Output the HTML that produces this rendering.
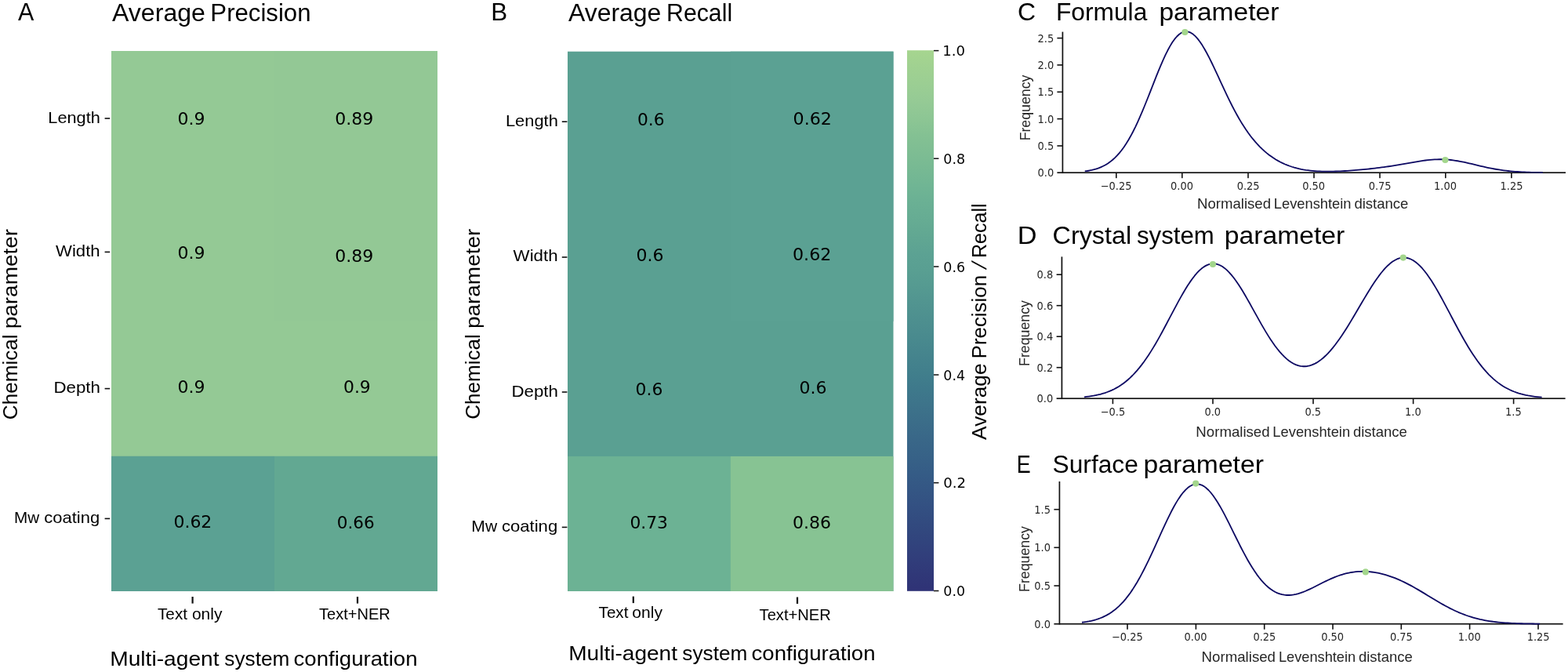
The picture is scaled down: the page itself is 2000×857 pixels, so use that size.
<!DOCTYPE html>
<html lang="en">
<head>
<meta charset="utf-8">
<title>Figure: multi-agent system evaluation</title>
<style>
html,body{margin:0;padding:0;background:#fff;}
body{width:2000px;height:857px;overflow:hidden;font-family:"Liberation Sans",sans-serif;}
svg{display:block;}
text{white-space:pre;}
</style>
</head>
<body>
<svg width="2000" height="857" viewBox="0 0 2000 857" role="img" aria-label="Heatmaps of average precision and recall, and density plots of normalised Levenshtein distance">
<rect x="0" y="0" width="2000" height="857" fill="#ffffff"/>
<rect x="142.00" y="65.00" width="416.00" height="689.00" fill="#94c995"/>
<rect x="142.00" y="581.75" width="208.00" height="172.25" fill="#5ba193"/>
<rect x="350.00" y="65.00" width="208.00" height="344.50" fill="#93c895"/>
<rect x="350.00" y="581.75" width="208.00" height="172.25" fill="#62a892"/>
<rect x="724.00" y="65.70" width="415.50" height="688.30" fill="#5aa092"/>
<rect x="724.00" y="581.92" width="207.75" height="172.08" fill="#6cb294"/>
<rect x="931.75" y="65.70" width="207.75" height="344.15" fill="#5ba193"/>
<rect x="931.75" y="581.92" width="207.75" height="172.08" fill="#87c393"/>
<defs><linearGradient id="cb" x1="0" y1="0" x2="0" y2="1"><stop offset="0.0000" stop-color="#a6d58f"/><stop offset="0.0312" stop-color="#a0d191"/><stop offset="0.0625" stop-color="#9bce93"/><stop offset="0.0938" stop-color="#95ca95"/><stop offset="0.1250" stop-color="#8dc694"/><stop offset="0.1562" stop-color="#84c193"/><stop offset="0.1875" stop-color="#7ebd93"/><stop offset="0.2188" stop-color="#77b993"/><stop offset="0.2500" stop-color="#70b594"/><stop offset="0.2812" stop-color="#6ab094"/><stop offset="0.3125" stop-color="#66ac93"/><stop offset="0.3438" stop-color="#61a792"/><stop offset="0.3750" stop-color="#5ca293"/><stop offset="0.4062" stop-color="#599f92"/><stop offset="0.4375" stop-color="#559a91"/><stop offset="0.4688" stop-color="#519490"/><stop offset="0.5000" stop-color="#4d8f8f"/><stop offset="0.5312" stop-color="#498a8e"/><stop offset="0.5625" stop-color="#45848d"/><stop offset="0.5938" stop-color="#417f8c"/><stop offset="0.6250" stop-color="#3e798b"/><stop offset="0.6562" stop-color="#3d738a"/><stop offset="0.6875" stop-color="#3b6d89"/><stop offset="0.7188" stop-color="#396788"/><stop offset="0.7500" stop-color="#376287"/><stop offset="0.7812" stop-color="#355c86"/><stop offset="0.8125" stop-color="#345684"/><stop offset="0.8438" stop-color="#335082"/><stop offset="0.8750" stop-color="#324a7f"/><stop offset="0.9062" stop-color="#31447d"/><stop offset="0.9375" stop-color="#313e7b"/><stop offset="0.9688" stop-color="#303878"/><stop offset="1.0000" stop-color="#2f3276"/></linearGradient></defs>
<rect x="1157" y="64.2" width="34" height="689.6" fill="url(#cb)"/>
<rect x="1191" y="63.85" width="6.4" height="1.5" fill="#111"/>
<rect x="1191" y="201.45" width="6.4" height="1.5" fill="#111"/>
<rect x="1191" y="339.25" width="6.4" height="1.5" fill="#111"/>
<rect x="1191" y="477.25" width="6.4" height="1.5" fill="#111"/>
<rect x="1191" y="614.95" width="6.4" height="1.5" fill="#111"/>
<rect x="1191" y="752.75" width="6.4" height="1.5" fill="#111"/>
<rect x="133.6" y="150.20" width="6.6" height="1.6" fill="#111"/>
<rect x="133.6" y="320.60" width="6.6" height="1.6" fill="#111"/>
<rect x="133.6" y="494.80" width="6.6" height="1.6" fill="#111"/>
<rect x="133.6" y="660.60" width="6.6" height="1.6" fill="#111"/>
<rect x="716.8" y="154.40" width="6.6" height="1.6" fill="#111"/>
<rect x="716.8" y="327.20" width="6.6" height="1.6" fill="#111"/>
<rect x="716.8" y="499.20" width="6.6" height="1.6" fill="#111"/>
<rect x="716.8" y="671.60" width="6.6" height="1.6" fill="#111"/>
<rect x="244.50" y="761" width="2.2" height="8.6" fill="#111"/>
<rect x="454.90" y="761" width="2.2" height="8.6" fill="#111"/>
<rect x="806.70" y="760.6" width="2.2" height="8.5" fill="#111"/>
<rect x="1015.90" y="761.5" width="2.2" height="8.5" fill="#111"/>
<rect x="1354.55" y="40.60" width="1.7" height="180.45" fill="#111111"/>
<rect x="1348.40" y="219.35" width="648.60" height="1.7" fill="#111111"/>
<rect x="1348.40" y="47.80" width="7.00" height="1.6" fill="#111111"/>
<rect x="1348.40" y="82.10" width="7.00" height="1.6" fill="#111111"/>
<rect x="1348.40" y="116.50" width="7.00" height="1.6" fill="#111111"/>
<rect x="1348.40" y="150.80" width="7.00" height="1.6" fill="#111111"/>
<rect x="1348.40" y="185.20" width="7.00" height="1.6" fill="#111111"/>
<rect x="1423.00" y="220.20" width="1.6" height="7.0" fill="#111111"/>
<rect x="1507.00" y="220.20" width="1.6" height="7.0" fill="#111111"/>
<rect x="1591.20" y="220.20" width="1.6" height="7.0" fill="#111111"/>
<rect x="1675.20" y="220.20" width="1.6" height="7.0" fill="#111111"/>
<rect x="1759.20" y="220.20" width="1.6" height="7.0" fill="#111111"/>
<rect x="1843.00" y="220.20" width="1.6" height="7.0" fill="#111111"/>
<rect x="1927.10" y="220.20" width="1.6" height="7.0" fill="#111111"/>
<path d="M1383.74,218.41 L1386.68,217.99 L1389.61,217.49 L1392.55,216.88 L1395.48,216.16 L1398.42,215.31 L1401.35,214.32 L1404.29,213.15 L1407.23,211.79 L1410.16,210.22 L1413.10,208.42 L1416.03,206.36 L1418.97,204.02 L1421.90,201.38 L1424.84,198.42 L1427.77,195.12 L1430.71,191.46 L1433.64,187.43 L1436.58,183.03 L1439.51,178.23 L1442.45,173.06 L1445.38,167.50 L1448.32,161.58 L1451.25,155.32 L1454.19,148.74 L1457.12,141.88 L1460.06,134.78 L1462.99,127.49 L1465.93,120.06 L1468.87,112.57 L1471.80,105.07 L1474.74,97.65 L1477.67,90.37 L1480.61,83.32 L1483.54,76.57 L1486.48,70.19 L1489.41,64.28 L1492.35,58.89 L1495.28,54.09 L1498.22,49.93 L1501.15,46.47 L1504.09,43.74 L1507.02,41.77 L1509.96,40.58 L1512.89,40.18 L1515.83,40.55 L1518.76,41.69 L1521.70,43.57 L1524.63,46.15 L1527.57,49.38 L1530.51,53.22 L1533.44,57.60 L1536.38,62.47 L1539.31,67.74 L1542.25,73.37 L1545.18,79.27 L1548.12,85.39 L1551.05,91.65 L1553.99,97.99 L1556.92,104.36 L1559.86,110.71 L1562.79,116.98 L1565.73,123.14 L1568.66,129.15 L1571.60,134.99 L1574.53,140.62 L1577.47,146.03 L1580.40,151.21 L1583.34,156.15 L1586.28,160.85 L1589.21,165.30 L1592.15,169.50 L1595.08,173.46 L1598.02,177.19 L1600.95,180.70 L1603.89,183.98 L1606.82,187.05 L1609.76,189.93 L1612.69,192.61 L1615.63,195.11 L1618.56,197.43 L1621.50,199.59 L1624.43,201.59 L1627.37,203.43 L1630.30,205.14 L1633.24,206.71 L1636.17,208.15 L1639.11,209.47 L1642.04,210.67 L1644.98,211.76 L1647.92,212.74 L1650.85,213.63 L1653.79,214.42 L1656.72,215.13 L1659.66,215.76 L1662.59,216.31 L1665.53,216.79 L1668.46,217.20 L1671.40,217.55 L1674.33,217.84 L1677.27,218.09 L1680.20,218.28 L1683.14,218.43 L1686.07,218.54 L1689.01,218.61 L1691.94,218.65 L1694.88,218.66 L1697.81,218.63 L1700.75,218.58 L1703.68,218.50 L1706.62,218.40 L1709.56,218.28 L1712.49,218.14 L1715.43,217.98 L1718.36,217.80 L1721.30,217.61 L1724.23,217.40 L1727.17,217.18 L1730.10,216.94 L1733.04,216.69 L1735.97,216.42 L1738.91,216.15 L1741.84,215.86 L1744.78,215.56 L1747.71,215.24 L1750.65,214.92 L1753.58,214.58 L1756.52,214.23 L1759.45,213.86 L1762.39,213.48 L1765.32,213.09 L1768.26,212.68 L1771.20,212.25 L1774.13,211.81 L1777.07,211.35 L1780.00,210.88 L1782.94,210.40 L1785.87,209.90 L1788.81,209.39 L1791.74,208.87 L1794.68,208.34 L1797.61,207.82 L1800.55,207.29 L1803.48,206.78 L1806.42,206.27 L1809.35,205.79 L1812.29,205.33 L1815.22,204.90 L1818.16,204.50 L1821.09,204.15 L1824.03,203.85 L1826.97,203.60 L1829.90,203.42 L1832.84,203.29 L1835.77,203.23 L1838.71,203.24 L1841.64,203.33 L1844.58,203.48 L1847.51,203.70 L1850.45,204.00 L1853.38,204.35 L1856.32,204.77 L1859.25,205.25 L1862.19,205.78 L1865.12,206.36 L1868.06,206.98 L1870.99,207.63 L1873.93,208.30 L1876.86,208.99 L1879.80,209.69 L1882.73,210.40 L1885.67,211.10 L1888.61,211.80 L1891.54,212.48 L1894.48,213.14 L1897.41,213.77 L1900.35,214.38 L1903.28,214.95 L1906.22,215.49 L1909.15,216.00 L1912.09,216.47 L1915.02,216.90 L1917.96,217.30 L1920.89,217.66 L1923.83,217.99 L1926.76,218.29 L1929.70,218.55 L1932.63,218.79 L1935.57,218.99 L1938.50,219.18 L1941.44,219.34 L1944.37,219.47 L1947.31,219.59 L1950.25,219.69 L1953.18,219.78 L1956.12,219.85 L1959.05,219.92 L1961.99,219.97 L1964.92,220.01 L1967.86,220.05" fill="none" stroke="#0c0862" stroke-width="1.8" stroke-linejoin="round"/>
<circle cx="1511.4" cy="41" r="4.1" fill="#a3d68c"/>
<circle cx="1843.4" cy="204" r="4.1" fill="#a3d68c"/>
<rect x="1353.55" y="327.40" width="1.7" height="181.65" fill="#111111"/>
<rect x="1347.60" y="507.35" width="649.00" height="1.7" fill="#111111"/>
<rect x="1347.60" y="349.40" width="6.80" height="1.6" fill="#111111"/>
<rect x="1347.60" y="388.90" width="6.80" height="1.6" fill="#111111"/>
<rect x="1347.60" y="428.40" width="6.80" height="1.6" fill="#111111"/>
<rect x="1347.60" y="467.90" width="6.80" height="1.6" fill="#111111"/>
<rect x="1418.60" y="508.20" width="1.6" height="7.0" fill="#111111"/>
<rect x="1546.20" y="508.20" width="1.6" height="7.0" fill="#111111"/>
<rect x="1674.20" y="508.20" width="1.6" height="7.0" fill="#111111"/>
<rect x="1801.80" y="508.20" width="1.6" height="7.0" fill="#111111"/>
<rect x="1929.80" y="508.20" width="1.6" height="7.0" fill="#111111"/>
<path d="M1382.98,506.31 L1385.91,505.98 L1388.85,505.61 L1391.78,505.18 L1394.71,504.69 L1397.65,504.12 L1400.58,503.49 L1403.51,502.77 L1406.44,501.95 L1409.38,501.04 L1412.31,500.02 L1415.24,498.87 L1418.18,497.60 L1421.11,496.19 L1424.04,494.63 L1426.97,492.91 L1429.91,491.02 L1432.84,488.96 L1435.77,486.70 L1438.71,484.26 L1441.64,481.61 L1444.57,478.75 L1447.50,475.68 L1450.44,472.39 L1453.37,468.89 L1456.30,465.16 L1459.24,461.22 L1462.17,457.06 L1465.10,452.69 L1468.03,448.12 L1470.97,443.36 L1473.90,438.43 L1476.83,433.34 L1479.77,428.10 L1482.70,422.75 L1485.63,417.29 L1488.56,411.77 L1491.50,406.20 L1494.43,400.62 L1497.36,395.07 L1500.30,389.56 L1503.23,384.14 L1506.16,378.85 L1509.09,373.71 L1512.03,368.78 L1514.96,364.07 L1517.89,359.63 L1520.83,355.49 L1523.76,351.69 L1526.69,348.24 L1529.62,345.19 L1532.56,342.56 L1535.49,340.36 L1538.42,338.61 L1541.36,337.34 L1544.29,336.54 L1547.22,336.24 L1550.15,336.41 L1553.09,337.08 L1556.02,338.22 L1558.95,339.83 L1561.89,341.90 L1564.82,344.40 L1567.75,347.31 L1570.68,350.61 L1573.62,354.27 L1576.55,358.25 L1579.48,362.53 L1582.42,367.07 L1585.35,371.83 L1588.28,376.77 L1591.21,381.86 L1594.15,387.06 L1597.08,392.33 L1600.01,397.63 L1602.95,402.92 L1605.88,408.17 L1608.81,413.35 L1611.74,418.42 L1614.68,423.35 L1617.61,428.12 L1620.54,432.69 L1623.48,437.05 L1626.41,441.17 L1629.34,445.03 L1632.27,448.62 L1635.21,451.92 L1638.14,454.92 L1641.07,457.61 L1644.01,459.98 L1646.94,462.02 L1649.87,463.73 L1652.80,465.11 L1655.74,466.15 L1658.67,466.86 L1661.60,467.23 L1664.54,467.27 L1667.47,466.99 L1670.40,466.37 L1673.33,465.44 L1676.27,464.20 L1679.20,462.64 L1682.13,460.79 L1685.06,458.64 L1688.00,456.22 L1690.93,453.51 L1693.86,450.55 L1696.80,447.34 L1699.73,443.88 L1702.66,440.20 L1705.59,436.30 L1708.53,432.21 L1711.46,427.94 L1714.39,423.50 L1717.33,418.92 L1720.26,414.21 L1723.19,409.40 L1726.12,404.50 L1729.06,399.54 L1731.99,394.55 L1734.92,389.55 L1737.86,384.56 L1740.79,379.61 L1743.72,374.73 L1746.65,369.96 L1749.59,365.31 L1752.52,360.81 L1755.45,356.50 L1758.39,352.41 L1761.32,348.55 L1764.25,344.97 L1767.18,341.68 L1770.12,338.71 L1773.05,336.08 L1775.98,333.82 L1778.92,331.94 L1781.85,330.46 L1784.78,329.39 L1787.71,328.74 L1790.65,328.53 L1793.58,328.75 L1796.51,329.41 L1799.45,330.50 L1802.38,332.03 L1805.31,333.97 L1808.24,336.33 L1811.18,339.08 L1814.11,342.22 L1817.04,345.71 L1819.98,349.53 L1822.91,353.66 L1825.84,358.08 L1828.77,362.75 L1831.71,367.64 L1834.64,372.73 L1837.57,377.97 L1840.51,383.34 L1843.44,388.81 L1846.37,394.35 L1849.30,399.92 L1852.24,405.49 L1855.17,411.04 L1858.10,416.54 L1861.04,421.96 L1863.97,427.28 L1866.90,432.48 L1869.83,437.54 L1872.77,442.45 L1875.70,447.18 L1878.63,451.72 L1881.57,456.07 L1884.50,460.22 L1887.43,464.16 L1890.36,467.89 L1893.30,471.41 L1896.23,474.71 L1899.16,477.80 L1902.10,480.69 L1905.03,483.37 L1907.96,485.85 L1910.89,488.14 L1913.83,490.24 L1916.76,492.17 L1919.69,493.93 L1922.63,495.54 L1925.56,496.99 L1928.49,498.31 L1931.42,499.50 L1934.36,500.56 L1937.29,501.52 L1940.22,502.37 L1943.16,503.13 L1946.09,503.80 L1949.02,504.39 L1951.95,504.91 L1954.89,505.37 L1957.82,505.77 L1960.75,506.13 L1963.69,506.43 L1966.62,506.69" fill="none" stroke="#0c0862" stroke-width="1.8" stroke-linejoin="round"/>
<circle cx="1547" cy="337" r="4.1" fill="#a3d68c"/>
<circle cx="1789.8" cy="328.6" r="4.1" fill="#a3d68c"/>
<rect x="1350.55" y="614.00" width="1.7" height="182.55" fill="#111111"/>
<rect x="1344.40" y="794.85" width="649.20" height="1.7" fill="#111111"/>
<rect x="1344.40" y="648.90" width="7.00" height="1.6" fill="#111111"/>
<rect x="1344.40" y="697.50" width="7.00" height="1.6" fill="#111111"/>
<rect x="1344.40" y="746.20" width="7.00" height="1.6" fill="#111111"/>
<rect x="1437.20" y="795.70" width="1.6" height="7.0" fill="#111111"/>
<rect x="1524.60" y="795.70" width="1.6" height="7.0" fill="#111111"/>
<rect x="1611.90" y="795.70" width="1.6" height="7.0" fill="#111111"/>
<rect x="1699.20" y="795.70" width="1.6" height="7.0" fill="#111111"/>
<rect x="1786.50" y="795.70" width="1.6" height="7.0" fill="#111111"/>
<rect x="1873.80" y="795.70" width="1.6" height="7.0" fill="#111111"/>
<rect x="1961.20" y="795.70" width="1.6" height="7.0" fill="#111111"/>
<path d="M1379.99,793.75 L1382.93,793.36 L1385.86,792.91 L1388.80,792.38 L1391.73,791.77 L1394.67,791.07 L1397.61,790.26 L1400.54,789.33 L1403.48,788.26 L1406.41,787.06 L1409.35,785.69 L1412.28,784.15 L1415.22,782.42 L1418.15,780.49 L1421.09,778.33 L1424.02,775.95 L1426.96,773.33 L1429.89,770.44 L1432.83,767.29 L1435.77,763.86 L1438.70,760.15 L1441.64,756.16 L1444.57,751.87 L1447.51,747.30 L1450.44,742.44 L1453.38,737.31 L1456.31,731.92 L1459.25,726.29 L1462.18,720.44 L1465.12,714.39 L1468.05,708.17 L1470.99,701.82 L1473.93,695.38 L1476.86,688.88 L1479.80,682.38 L1482.73,675.92 L1485.67,669.55 L1488.60,663.32 L1491.54,657.29 L1494.47,651.50 L1497.41,646.02 L1500.34,640.89 L1503.28,636.15 L1506.21,631.87 L1509.15,628.07 L1512.09,624.80 L1515.02,622.09 L1517.96,619.96 L1520.89,618.44 L1523.83,617.53 L1526.76,617.25 L1529.70,617.60 L1532.63,618.56 L1535.57,620.14 L1538.50,622.29 L1541.44,625.01 L1544.37,628.25 L1547.31,631.98 L1550.25,636.16 L1553.18,640.74 L1556.12,645.68 L1559.05,650.92 L1561.99,656.41 L1564.92,662.09 L1567.86,667.92 L1570.79,673.85 L1573.73,679.81 L1576.66,685.77 L1579.60,691.68 L1582.53,697.49 L1585.47,703.16 L1588.41,708.66 L1591.34,713.96 L1594.28,719.02 L1597.21,723.83 L1600.15,728.36 L1603.08,732.59 L1606.02,736.51 L1608.95,740.12 L1611.89,743.40 L1614.82,746.36 L1617.76,748.99 L1620.69,751.29 L1623.63,753.28 L1626.57,754.95 L1629.50,756.32 L1632.44,757.40 L1635.37,758.19 L1638.31,758.72 L1641.24,758.99 L1644.18,759.02 L1647.11,758.83 L1650.05,758.43 L1652.98,757.85 L1655.92,757.09 L1658.85,756.18 L1661.79,755.13 L1664.73,753.97 L1667.66,752.70 L1670.60,751.36 L1673.53,749.95 L1676.47,748.50 L1679.40,747.02 L1682.34,745.53 L1685.27,744.04 L1688.21,742.56 L1691.14,741.12 L1694.08,739.72 L1697.01,738.38 L1699.95,737.10 L1702.89,735.89 L1705.82,734.76 L1708.76,733.73 L1711.69,732.78 L1714.63,731.93 L1717.56,731.18 L1720.50,730.54 L1723.43,729.99 L1726.37,729.55 L1729.30,729.20 L1732.24,728.96 L1735.17,728.82 L1738.11,728.77 L1741.05,728.82 L1743.98,728.96 L1746.92,729.19 L1749.85,729.51 L1752.79,729.92 L1755.72,730.41 L1758.66,730.98 L1761.59,731.64 L1764.53,732.37 L1767.46,733.19 L1770.40,734.08 L1773.33,735.04 L1776.27,736.09 L1779.21,737.20 L1782.14,738.39 L1785.08,739.65 L1788.01,740.98 L1790.95,742.37 L1793.88,743.83 L1796.82,745.34 L1799.75,746.91 L1802.69,748.52 L1805.62,750.18 L1808.56,751.88 L1811.49,753.61 L1814.43,755.36 L1817.37,757.13 L1820.30,758.92 L1823.24,760.71 L1826.17,762.49 L1829.11,764.26 L1832.04,766.02 L1834.98,767.75 L1837.91,769.46 L1840.85,771.12 L1843.78,772.74 L1846.72,774.32 L1849.65,775.84 L1852.59,777.30 L1855.53,778.71 L1858.46,780.05 L1861.40,781.33 L1864.33,782.54 L1867.27,783.68 L1870.20,784.76 L1873.14,785.77 L1876.07,786.71 L1879.01,787.59 L1881.94,788.40 L1884.88,789.15 L1887.81,789.85 L1890.75,790.48 L1893.69,791.06 L1896.62,791.59 L1899.56,792.06 L1902.49,792.50 L1905.43,792.89 L1908.36,793.24 L1911.30,793.55 L1914.23,793.83 L1917.17,794.07 L1920.10,794.29 L1923.04,794.49 L1925.97,794.66 L1928.91,794.81 L1931.85,794.94 L1934.78,795.05 L1937.72,795.15 L1940.65,795.23 L1943.59,795.31 L1946.52,795.37 L1949.46,795.42 L1952.39,795.47 L1955.33,795.51 L1958.26,795.54 L1961.20,795.57 L1964.13,795.59" fill="none" stroke="#0c0862" stroke-width="1.8" stroke-linejoin="round"/>
<circle cx="1525.2" cy="616.6" r="4.1" fill="#a3d68c"/>
<circle cx="1741.8" cy="729.4" r="4.1" fill="#a3d68c"/>
<text x="23.00" y="26.20" textLength="20.29" lengthAdjust="spacingAndGlyphs" fill="#000" style="font-family:'Liberation Sans', sans-serif;font-size:31.0px">A</text>
<text fill="#000" style="font-family:'Liberation Sans', sans-serif;font-size:31.0px"><tspan x="143.00" y="26.60" textLength="118.94" lengthAdjust="spacingAndGlyphs">Average</tspan> <tspan x="268.39" y="26.60" textLength="128.12" lengthAdjust="spacingAndGlyphs">Precision</tspan></text>
<text x="61.33" y="157.00" textLength="66.53" lengthAdjust="spacingAndGlyphs" fill="#000" style="font-family:'Liberation Sans', sans-serif;font-size:20.4px">Length</text>
<text x="71.00" y="327.40" textLength="56.62" lengthAdjust="spacingAndGlyphs" fill="#000" style="font-family:'Liberation Sans', sans-serif;font-size:20.4px">Width</text>
<text x="68.51" y="501.00" textLength="59.45" lengthAdjust="spacingAndGlyphs" fill="#000" style="font-family:'Liberation Sans', sans-serif;font-size:20.4px">Depth</text>
<text fill="#000" style="font-family:'Liberation Sans', sans-serif;font-size:20.4px"><tspan x="17.99" y="666.60" textLength="32.13" lengthAdjust="spacingAndGlyphs">Mw</tspan> <tspan x="56.32" y="666.60" textLength="70.90" lengthAdjust="spacingAndGlyphs">coating</tspan></text>
<text fill="#000" style="font-family:'Liberation Sans', sans-serif;font-size:20.4px"><tspan x="201.00" y="790.40" textLength="38.00" lengthAdjust="spacingAndGlyphs">Text</tspan> <tspan x="244.97" y="790.40" textLength="38.42" lengthAdjust="spacingAndGlyphs">only</tspan></text>
<text x="407.00" y="790.40" textLength="90.75" lengthAdjust="spacingAndGlyphs" fill="#000" style="font-family:'Liberation Sans', sans-serif;font-size:20.4px">Text+NER</text>
<text fill="#000" style="font-family:'Liberation Sans', sans-serif;font-size:26.0px"><tspan x="140.23" y="849.00" textLength="139.36" lengthAdjust="spacingAndGlyphs">Multi-agent</tspan> <tspan x="286.39" y="849.00" textLength="82.96" lengthAdjust="spacingAndGlyphs">system</tspan> <tspan x="374.54" y="849.00" textLength="158.01" lengthAdjust="spacingAndGlyphs">configuration</tspan></text>
<text transform="translate(22.00,534.20) rotate(-90)" fill="#000" style="font-family:'Liberation Sans', sans-serif;font-size:26.0px"><tspan x="-1.00" y="0.00" textLength="108.78" lengthAdjust="spacingAndGlyphs">Chemical</tspan> <tspan x="114.92" y="0.00" textLength="127.41" lengthAdjust="spacingAndGlyphs">parameter</tspan></text>
<text x="226.60" y="158.70" textLength="35.00" lengthAdjust="spacingAndGlyphs" fill="#000" style="font-family:'DejaVu Sans', 'Liberation Sans', sans-serif;font-size:22.0px">0.9</text>
<text x="226.60" y="329.70" textLength="35.00" lengthAdjust="spacingAndGlyphs" fill="#000" style="font-family:'DejaVu Sans', 'Liberation Sans', sans-serif;font-size:22.0px">0.9</text>
<text x="226.60" y="500.70" textLength="35.00" lengthAdjust="spacingAndGlyphs" fill="#000" style="font-family:'DejaVu Sans', 'Liberation Sans', sans-serif;font-size:22.0px">0.9</text>
<text x="221.40" y="673.30" textLength="48.98" lengthAdjust="spacingAndGlyphs" fill="#000" style="font-family:'DejaVu Sans', 'Liberation Sans', sans-serif;font-size:22.0px">0.62</text>
<text x="427.20" y="158.90" textLength="49.09" lengthAdjust="spacingAndGlyphs" fill="#000" style="font-family:'DejaVu Sans', 'Liberation Sans', sans-serif;font-size:22.0px">0.89</text>
<text x="427.20" y="333.90" textLength="49.09" lengthAdjust="spacingAndGlyphs" fill="#000" style="font-family:'DejaVu Sans', 'Liberation Sans', sans-serif;font-size:22.0px">0.89</text>
<text x="438.01" y="501.10" textLength="34.79" lengthAdjust="spacingAndGlyphs" fill="#000" style="font-family:'DejaVu Sans', 'Liberation Sans', sans-serif;font-size:22.0px">0.9</text>
<text x="429.72" y="673.90" textLength="48.05" lengthAdjust="spacingAndGlyphs" fill="#000" style="font-family:'DejaVu Sans', 'Liberation Sans', sans-serif;font-size:22.0px">0.66</text>
<text x="626.38" y="26.20" textLength="20.93" lengthAdjust="spacingAndGlyphs" fill="#000" style="font-family:'Liberation Sans', sans-serif;font-size:31.0px">B</text>
<text fill="#000" style="font-family:'Liberation Sans', sans-serif;font-size:31.0px"><tspan x="725.00" y="26.60" textLength="118.33" lengthAdjust="spacingAndGlyphs">Average</tspan> <tspan x="850.05" y="26.60" textLength="84.08" lengthAdjust="spacingAndGlyphs">Recall</tspan></text>
<text x="644.93" y="161.20" textLength="66.95" lengthAdjust="spacingAndGlyphs" fill="#000" style="font-family:'Liberation Sans', sans-serif;font-size:20.4px">Length</text>
<text x="654.60" y="333.40" textLength="57.03" lengthAdjust="spacingAndGlyphs" fill="#000" style="font-family:'Liberation Sans', sans-serif;font-size:20.4px">Width</text>
<text x="652.51" y="505.60" textLength="59.45" lengthAdjust="spacingAndGlyphs" fill="#000" style="font-family:'Liberation Sans', sans-serif;font-size:20.4px">Depth</text>
<text fill="#000" style="font-family:'Liberation Sans', sans-serif;font-size:20.4px"><tspan x="601.37" y="678.00" textLength="32.74" lengthAdjust="spacingAndGlyphs">Mw</tspan> <tspan x="639.92" y="678.00" textLength="71.31" lengthAdjust="spacingAndGlyphs">coating</tspan></text>
<text fill="#000" style="font-family:'Liberation Sans', sans-serif;font-size:20.4px"><tspan x="763.60" y="787.60" textLength="37.80" lengthAdjust="spacingAndGlyphs">Text</tspan> <tspan x="806.37" y="787.60" textLength="38.62" lengthAdjust="spacingAndGlyphs">only</tspan></text>
<text x="968.60" y="790.50" textLength="91.15" lengthAdjust="spacingAndGlyphs" fill="#000" style="font-family:'Liberation Sans', sans-serif;font-size:20.4px">Text+NER</text>
<text fill="#000" style="font-family:'Liberation Sans', sans-serif;font-size:26.0px"><tspan x="725.24" y="841.50" textLength="138.75" lengthAdjust="spacingAndGlyphs">Multi-agent</tspan> <tspan x="870.39" y="841.50" textLength="82.96" lengthAdjust="spacingAndGlyphs">system</tspan> <tspan x="958.54" y="841.50" textLength="158.01" lengthAdjust="spacingAndGlyphs">configuration</tspan></text>
<text transform="translate(612.00,533.80) rotate(-90)" fill="#000" style="font-family:'Liberation Sans', sans-serif;font-size:26.0px"><tspan x="-1.00" y="0.00" textLength="108.58" lengthAdjust="spacingAndGlyphs">Chemical</tspan> <tspan x="114.72" y="0.00" textLength="127.41" lengthAdjust="spacingAndGlyphs">parameter</tspan></text>
<text x="813.01" y="159.70" textLength="34.58" lengthAdjust="spacingAndGlyphs" fill="#000" style="font-family:'DejaVu Sans', 'Liberation Sans', sans-serif;font-size:22.0px">0.6</text>
<text x="811.60" y="333.30" textLength="35.00" lengthAdjust="spacingAndGlyphs" fill="#000" style="font-family:'DejaVu Sans', 'Liberation Sans', sans-serif;font-size:22.0px">0.6</text>
<text x="810.61" y="503.70" textLength="34.79" lengthAdjust="spacingAndGlyphs" fill="#000" style="font-family:'DejaVu Sans', 'Liberation Sans', sans-serif;font-size:22.0px">0.6</text>
<text x="803.41" y="673.70" textLength="48.57" lengthAdjust="spacingAndGlyphs" fill="#000" style="font-family:'DejaVu Sans', 'Liberation Sans', sans-serif;font-size:22.0px">0.73</text>
<text x="1011.59" y="158.70" textLength="49.41" lengthAdjust="spacingAndGlyphs" fill="#000" style="font-family:'DejaVu Sans', 'Liberation Sans', sans-serif;font-size:22.0px">0.62</text>
<text x="1010.99" y="331.70" textLength="49.41" lengthAdjust="spacingAndGlyphs" fill="#000" style="font-family:'DejaVu Sans', 'Liberation Sans', sans-serif;font-size:22.0px">0.62</text>
<text x="1019.40" y="501.70" textLength="35.00" lengthAdjust="spacingAndGlyphs" fill="#000" style="font-family:'DejaVu Sans', 'Liberation Sans', sans-serif;font-size:22.0px">0.6</text>
<text x="1011.00" y="674.10" textLength="48.98" lengthAdjust="spacingAndGlyphs" fill="#000" style="font-family:'DejaVu Sans', 'Liberation Sans', sans-serif;font-size:22.0px">0.86</text>
<text x="1202.29" y="71.30" textLength="28.75" lengthAdjust="spacingAndGlyphs" fill="#000" style="font-family:'DejaVu Sans', 'Liberation Sans', sans-serif;font-size:18.0px">1.0</text>
<text x="1203.33" y="208.90" textLength="27.69" lengthAdjust="spacingAndGlyphs" fill="#000" style="font-family:'DejaVu Sans', 'Liberation Sans', sans-serif;font-size:18.0px">0.8</text>
<text x="1203.33" y="346.70" textLength="27.69" lengthAdjust="spacingAndGlyphs" fill="#000" style="font-family:'DejaVu Sans', 'Liberation Sans', sans-serif;font-size:18.0px">0.6</text>
<text x="1203.33" y="484.70" textLength="27.69" lengthAdjust="spacingAndGlyphs" fill="#000" style="font-family:'DejaVu Sans', 'Liberation Sans', sans-serif;font-size:18.0px">0.4</text>
<text x="1203.30" y="622.40" textLength="28.75" lengthAdjust="spacingAndGlyphs" fill="#000" style="font-family:'DejaVu Sans', 'Liberation Sans', sans-serif;font-size:18.0px">0.2</text>
<text x="1203.33" y="760.20" textLength="27.69" lengthAdjust="spacingAndGlyphs" fill="#000" style="font-family:'DejaVu Sans', 'Liberation Sans', sans-serif;font-size:18.0px">0.0</text>
<text transform="translate(1257.50,560.90) rotate(-90)" fill="#000" style="font-family:'Liberation Sans', sans-serif;font-size:26.0px"><tspan x="0.00" y="0.00" textLength="97.48" lengthAdjust="spacingAndGlyphs">Average</tspan> <tspan x="103.51" y="0.00" textLength="106.53" lengthAdjust="spacingAndGlyphs">Precision</tspan></text>
<text transform="translate(1257.50,344.30) rotate(-90) skewX(-14.85)" x="0.00" y="0" fill="#000" style="font-family:'Liberation Sans', sans-serif;font-size:26.0px">/</text>
<text transform="translate(1257.50,327.10) rotate(-90)" x="-1.93" y="0" textLength="69.63" lengthAdjust="spacingAndGlyphs" fill="#000" style="font-family:'Liberation Sans', sans-serif;font-size:26.0px">Recall</text>
<text x="1297.97" y="26.40" textLength="23.06" lengthAdjust="spacingAndGlyphs" fill="#000" style="font-family:'Liberation Sans', sans-serif;font-size:31.0px">C</text>
<text fill="#000" style="font-family:'Liberation Sans', sans-serif;font-size:31.0px"><tspan x="1346.95" y="25.60" textLength="116.34" lengthAdjust="spacingAndGlyphs">Formula</tspan> <tspan x="1478.44" y="25.60" textLength="152.89" lengthAdjust="spacingAndGlyphs">parameter</tspan></text>
<text x="1323.54" y="53.50" textLength="20.65" lengthAdjust="spacingAndGlyphs" fill="#262626" style="font-family:'DejaVu Sans', 'Liberation Sans', sans-serif;font-size:13.6px">2.5</text>
<text x="1323.54" y="87.80" textLength="20.65" lengthAdjust="spacingAndGlyphs" fill="#262626" style="font-family:'DejaVu Sans', 'Liberation Sans', sans-serif;font-size:13.6px">2.0</text>
<text x="1323.54" y="122.20" textLength="20.65" lengthAdjust="spacingAndGlyphs" fill="#262626" style="font-family:'DejaVu Sans', 'Liberation Sans', sans-serif;font-size:13.6px">1.5</text>
<text x="1323.54" y="156.50" textLength="20.65" lengthAdjust="spacingAndGlyphs" fill="#262626" style="font-family:'DejaVu Sans', 'Liberation Sans', sans-serif;font-size:13.6px">1.0</text>
<text x="1323.54" y="190.90" textLength="20.65" lengthAdjust="spacingAndGlyphs" fill="#262626" style="font-family:'DejaVu Sans', 'Liberation Sans', sans-serif;font-size:13.6px">0.5</text>
<text x="1323.54" y="225.10" textLength="20.65" lengthAdjust="spacingAndGlyphs" fill="#262626" style="font-family:'DejaVu Sans', 'Liberation Sans', sans-serif;font-size:13.6px">0.0</text>
<text x="1403.74" y="241.80" textLength="39.80" lengthAdjust="spacingAndGlyphs" fill="#262626" style="font-family:'DejaVu Sans', 'Liberation Sans', sans-serif;font-size:13.6px">−0.25</text>
<text x="1493.00" y="241.80" textLength="28.92" lengthAdjust="spacingAndGlyphs" fill="#262626" style="font-family:'DejaVu Sans', 'Liberation Sans', sans-serif;font-size:13.6px">0.00</text>
<text x="1577.67" y="241.80" textLength="28.92" lengthAdjust="spacingAndGlyphs" fill="#262626" style="font-family:'DejaVu Sans', 'Liberation Sans', sans-serif;font-size:13.6px">0.25</text>
<text x="1661.20" y="241.80" textLength="28.92" lengthAdjust="spacingAndGlyphs" fill="#262626" style="font-family:'DejaVu Sans', 'Liberation Sans', sans-serif;font-size:13.6px">0.50</text>
<text x="1745.67" y="241.80" textLength="28.92" lengthAdjust="spacingAndGlyphs" fill="#262626" style="font-family:'DejaVu Sans', 'Liberation Sans', sans-serif;font-size:13.6px">0.75</text>
<text x="1829.00" y="241.80" textLength="28.92" lengthAdjust="spacingAndGlyphs" fill="#262626" style="font-family:'DejaVu Sans', 'Liberation Sans', sans-serif;font-size:13.6px">1.00</text>
<text x="1913.58" y="241.80" textLength="28.92" lengthAdjust="spacingAndGlyphs" fill="#262626" style="font-family:'DejaVu Sans', 'Liberation Sans', sans-serif;font-size:13.6px">1.25</text>
<text transform="translate(1314.30,178.40) rotate(-90)" x="-0.98" y="0" textLength="83.81" lengthAdjust="spacingAndGlyphs" fill="#262626" style="font-family:'Liberation Sans', sans-serif;font-size:18.2px">Frequency</text>
<text fill="#262626" style="font-family:'Liberation Sans', sans-serif;font-size:18.2px"><tspan x="1526.98" y="266.00" textLength="94.03" lengthAdjust="spacingAndGlyphs">Normalised</tspan> <tspan x="1624.79" y="266.00" textLength="98.71" lengthAdjust="spacingAndGlyphs">Levenshtein</tspan> <tspan x="1727.40" y="266.00" textLength="68.96" lengthAdjust="spacingAndGlyphs">distance</tspan></text>
<text x="1297.79" y="311.40" textLength="24.75" lengthAdjust="spacingAndGlyphs" fill="#000" style="font-family:'Liberation Sans', sans-serif;font-size:31.0px">D</text>
<text fill="#000" style="font-family:'Liberation Sans', sans-serif;font-size:31.0px"><tspan x="1342.56" y="311.20" textLength="100.56" lengthAdjust="spacingAndGlyphs">Crystal</tspan> <tspan x="1449.99" y="311.20" textLength="98.80" lengthAdjust="spacingAndGlyphs">system</tspan> <tspan x="1561.83" y="311.20" textLength="153.50" lengthAdjust="spacingAndGlyphs">parameter</tspan></text>
<text x="1322.54" y="355.10" textLength="20.65" lengthAdjust="spacingAndGlyphs" fill="#262626" style="font-family:'DejaVu Sans', 'Liberation Sans', sans-serif;font-size:13.6px">0.8</text>
<text x="1322.54" y="394.60" textLength="20.65" lengthAdjust="spacingAndGlyphs" fill="#262626" style="font-family:'DejaVu Sans', 'Liberation Sans', sans-serif;font-size:13.6px">0.6</text>
<text x="1322.54" y="434.10" textLength="20.65" lengthAdjust="spacingAndGlyphs" fill="#262626" style="font-family:'DejaVu Sans', 'Liberation Sans', sans-serif;font-size:13.6px">0.4</text>
<text x="1322.54" y="473.60" textLength="20.65" lengthAdjust="spacingAndGlyphs" fill="#262626" style="font-family:'DejaVu Sans', 'Liberation Sans', sans-serif;font-size:13.6px">0.2</text>
<text x="1322.54" y="513.10" textLength="20.65" lengthAdjust="spacingAndGlyphs" fill="#262626" style="font-family:'DejaVu Sans', 'Liberation Sans', sans-serif;font-size:13.6px">0.0</text>
<text x="1403.64" y="529.80" textLength="31.53" lengthAdjust="spacingAndGlyphs" fill="#262626" style="font-family:'DejaVu Sans', 'Liberation Sans', sans-serif;font-size:13.6px">−0.5</text>
<text x="1536.49" y="529.80" textLength="20.65" lengthAdjust="spacingAndGlyphs" fill="#262626" style="font-family:'DejaVu Sans', 'Liberation Sans', sans-serif;font-size:13.6px">0.0</text>
<text x="1664.49" y="529.80" textLength="20.65" lengthAdjust="spacingAndGlyphs" fill="#262626" style="font-family:'DejaVu Sans', 'Liberation Sans', sans-serif;font-size:13.6px">0.5</text>
<text x="1792.09" y="529.80" textLength="20.65" lengthAdjust="spacingAndGlyphs" fill="#262626" style="font-family:'DejaVu Sans', 'Liberation Sans', sans-serif;font-size:13.6px">1.0</text>
<text x="1920.09" y="529.80" textLength="20.65" lengthAdjust="spacingAndGlyphs" fill="#262626" style="font-family:'DejaVu Sans', 'Liberation Sans', sans-serif;font-size:13.6px">1.5</text>
<text transform="translate(1313.40,466.00) rotate(-90)" x="-0.98" y="0" textLength="83.92" lengthAdjust="spacingAndGlyphs" fill="#262626" style="font-family:'Liberation Sans', sans-serif;font-size:18.2px">Frequency</text>
<text fill="#262626" style="font-family:'Liberation Sans', sans-serif;font-size:18.2px"><tspan x="1525.38" y="557.00" textLength="94.23" lengthAdjust="spacingAndGlyphs">Normalised</tspan> <tspan x="1623.39" y="557.00" textLength="98.71" lengthAdjust="spacingAndGlyphs">Levenshtein</tspan> <tspan x="1726.00" y="557.00" textLength="68.76" lengthAdjust="spacingAndGlyphs">distance</tspan></text>
<text x="1296.67" y="603.00" textLength="17.93" lengthAdjust="spacingAndGlyphs" fill="#000" style="font-family:'Liberation Sans', sans-serif;font-size:31.0px">E</text>
<text fill="#000" style="font-family:'Liberation Sans', sans-serif;font-size:31.0px"><tspan x="1342.58" y="603.00" textLength="109.29" lengthAdjust="spacingAndGlyphs">Surface</tspan> <tspan x="1458.43" y="603.00" textLength="153.50" lengthAdjust="spacingAndGlyphs">parameter</tspan></text>
<text x="1319.35" y="654.60" textLength="20.65" lengthAdjust="spacingAndGlyphs" fill="#262626" style="font-family:'DejaVu Sans', 'Liberation Sans', sans-serif;font-size:13.6px">1.5</text>
<text x="1319.35" y="703.20" textLength="20.65" lengthAdjust="spacingAndGlyphs" fill="#262626" style="font-family:'DejaVu Sans', 'Liberation Sans', sans-serif;font-size:13.6px">1.0</text>
<text x="1319.35" y="751.90" textLength="20.65" lengthAdjust="spacingAndGlyphs" fill="#262626" style="font-family:'DejaVu Sans', 'Liberation Sans', sans-serif;font-size:13.6px">0.5</text>
<text x="1319.35" y="800.50" textLength="20.65" lengthAdjust="spacingAndGlyphs" fill="#262626" style="font-family:'DejaVu Sans', 'Liberation Sans', sans-serif;font-size:13.6px">0.0</text>
<text x="1417.94" y="817.40" textLength="39.80" lengthAdjust="spacingAndGlyphs" fill="#262626" style="font-family:'DejaVu Sans', 'Liberation Sans', sans-serif;font-size:13.6px">−0.25</text>
<text x="1510.60" y="817.40" textLength="28.92" lengthAdjust="spacingAndGlyphs" fill="#262626" style="font-family:'DejaVu Sans', 'Liberation Sans', sans-serif;font-size:13.6px">0.00</text>
<text x="1598.38" y="817.40" textLength="28.92" lengthAdjust="spacingAndGlyphs" fill="#262626" style="font-family:'DejaVu Sans', 'Liberation Sans', sans-serif;font-size:13.6px">0.25</text>
<text x="1685.20" y="817.40" textLength="28.92" lengthAdjust="spacingAndGlyphs" fill="#262626" style="font-family:'DejaVu Sans', 'Liberation Sans', sans-serif;font-size:13.6px">0.50</text>
<text x="1772.97" y="817.40" textLength="28.92" lengthAdjust="spacingAndGlyphs" fill="#262626" style="font-family:'DejaVu Sans', 'Liberation Sans', sans-serif;font-size:13.6px">0.75</text>
<text x="1859.80" y="817.40" textLength="28.92" lengthAdjust="spacingAndGlyphs" fill="#262626" style="font-family:'DejaVu Sans', 'Liberation Sans', sans-serif;font-size:13.6px">1.00</text>
<text x="1947.67" y="817.40" textLength="28.92" lengthAdjust="spacingAndGlyphs" fill="#262626" style="font-family:'DejaVu Sans', 'Liberation Sans', sans-serif;font-size:13.6px">1.25</text>
<text transform="translate(1313.20,754.00) rotate(-90)" x="-0.98" y="0" textLength="83.92" lengthAdjust="spacingAndGlyphs" fill="#262626" style="font-family:'Liberation Sans', sans-serif;font-size:18.2px">Frequency</text>
<text fill="#262626" style="font-family:'Liberation Sans', sans-serif;font-size:18.2px"><tspan x="1532.57" y="844.40" textLength="94.44" lengthAdjust="spacingAndGlyphs">Normalised</tspan> <tspan x="1631.00" y="844.40" textLength="98.09" lengthAdjust="spacingAndGlyphs">Levenshtein</tspan> <tspan x="1733.00" y="844.40" textLength="68.76" lengthAdjust="spacingAndGlyphs">distance</tspan></text>
</svg>
</body>
</html>
